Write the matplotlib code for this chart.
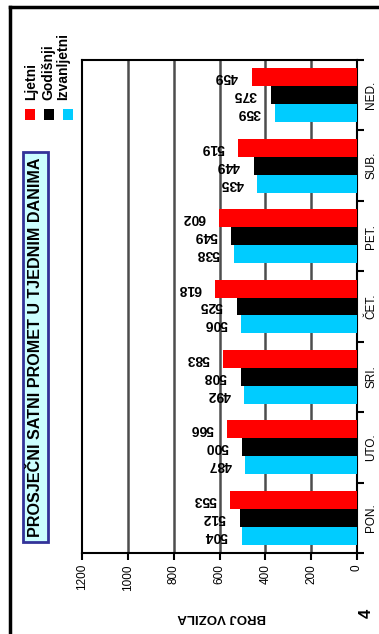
import matplotlib
matplotlib.use("Agg")
import matplotlib.pyplot as plt
from matplotlib.lines import Line2D
from matplotlib.patches import Rectangle
import numpy as np

plt.rcParams['font.family'] = ['Liberation Sans', 'DejaVu Sans']

# data
days = ['PON.', 'UTO.', 'SRI.', 'ČET.', 'PET.', 'SUB.', 'NED.']
ljetni = [553, 566, 583, 618, 602, 519, 459]
godisnji = [512, 500, 508, 525, 549, 449, 375]
izvanljetni = [504, 487, 492, 506, 538, 435, 359]
series = ['Ljetni', 'Godišnji', 'Izvanljetni']
colors = ['#ff0000', '#000000', '#00ccff']
ticks = [0, 200, 400, 600, 800, 1000, 1200]

W, H = 379, 634
fig = plt.figure(figsize=(W / 100, H / 100), dpi=100)
ax = fig.add_axes([82 / W, 1 - 553 / H, 275 / W, 493 / H])

y = np.arange(len(days))
h = 0.255
for vals, off, c in zip([ljetni, godisnji, izvanljetni], [h, 0, -h], colors):
    ax.barh(y + off, vals, height=h, color=c, zorder=3)
    for yy, v in zip(y + off, vals):
        ax.annotate(str(v), (v, yy), xytext=(-10, 0), textcoords='offset points',
                    rotation=180, ha='right', va='center',
                    fontsize=10, fontweight='bold', zorder=4)

ax.set_xlim(1200, 0)
ax.set_ylim(-0.5, len(days) - 0.5)
ax.set_xticks(ticks)
ax.set_xticklabels([str(t) for t in ticks], rotation=90, fontsize=8.5)
ax.tick_params(axis='x', direction='out', length=5, width=1.5, pad=3)
for t in ticks[1:-1]:
    ax.axvline(t, color='#4d4d4d', lw=1.8, zorder=1)

ax.yaxis.tick_right()
ax.set_yticks(np.arange(len(days) + 1) - 0.5)
ax.set_yticklabels([])
ax.set_yticks(y, minor=True)
ax.set_yticklabels(days, minor=True, rotation=90, va='center', fontsize=8.5)
ax.tick_params(axis='y', which='major', direction='out', length=5, width=1.5)
ax.tick_params(axis='y', which='minor', length=0, pad=6)
for s in ax.spines.values():
    s.set_linewidth(1.5)

fig.text(222 / W, 1 - 617 / H, 'BROJ VOZILA', rotation=180, ha='center', va='center',
         fontsize=9.5, fontweight='bold')
fig.text(366 / W, 1 - 613 / H, '4', rotation=90, ha='center', va='center',
         fontsize=12, fontweight='bold')

# title box
fig.text(35.5 / W, 1 - 347 / H, 'PROSJEČNI SATNI PROMET U TJEDNIM DANIMA', rotation=90,
         ha='center', va='center', fontsize=11.6, fontweight='bold',
         bbox=dict(boxstyle='square,pad=0.3', facecolor='#ccffff', edgecolor='#333399', lw=2))

# legend
for i, (name, c) in enumerate(zip(series, colors)):
    xc = [30, 49, 68][i]
    fig.add_artist(Rectangle(((xc - 5) / W, 1 - 120 / H), 10 / W, 11 / H,
                             transform=fig.transFigure, facecolor=c, edgecolor='none'))
    fig.text([31, 48, 63][i] / W, 1 - 100 / H, name, rotation=90, ha='center', va='bottom',
             fontsize=10, fontweight='bold')

# page frame
fig.add_artist(Line2D([10 / W, 10 / W], [0, 1 - 7 / H], color='black', lw=2.5,
                      transform=fig.transFigure))
fig.add_artist(Line2D([10 / W, 1], [1 - 7 / H, 1 - 7 / H], color='black', lw=2.5,
                      transform=fig.transFigure))

fig.savefig('out.png', dpi=100)
